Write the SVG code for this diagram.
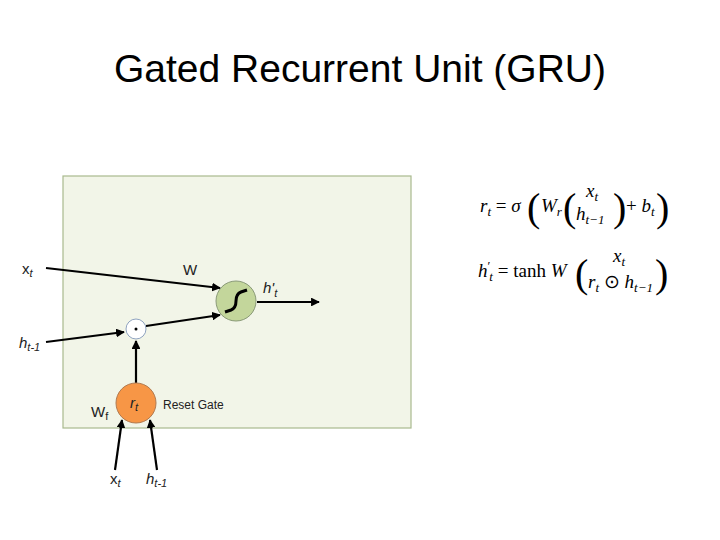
<svg xmlns="http://www.w3.org/2000/svg" width="720" height="540" viewBox="0 0 720 540">
<style>
.lbl{font-family:"Liberation Sans",Arial,sans-serif;font-size:15px;fill:#222}
.it{font-style:italic}
.sub{font-size:11px}
.eq{font-family:"Liberation Serif","Times New Roman",serif;font-size:19px;fill:#000}
.es{font-size:13px;font-style:italic}
.par{font-size:40px;font-weight:100}
.conn{stroke:#000;stroke-width:2.2;fill:none;marker-end:url(#ah)}
</style>
<defs>
<marker id="ah" viewBox="0 0 10 10" refX="9" refY="5" markerWidth="4" markerHeight="4" orient="auto" markerUnits="strokeWidth">
<path d="M0,0 L10,5 L0,10 z" fill="#000"/>
</marker>
</defs>
<rect width="720" height="540" fill="#fff"/>
<text x="360" y="82" text-anchor="middle" font-family="Liberation Sans,Arial,sans-serif" font-size="39">Gated Recurrent Unit (GRU)</text>
<g id="panel"><rect x="63" y="176" width="348" height="252" fill="#f2f5e8" stroke="#a9b98e" stroke-width="1.2"/></g>
<g id="connectors">
<line class="conn" x1="46" y1="268" x2="220" y2="288"/>
<line class="conn" x1="46" y1="342" x2="124" y2="332"/>
<line class="conn" x1="146" y1="326" x2="220" y2="315"/>
<line class="conn" x1="136" y1="383" x2="136" y2="341"/>
<line class="conn" x1="257" y1="302" x2="319" y2="302"/>
<line class="conn" x1="115" y1="470" x2="122" y2="420"/>
<line class="conn" x1="157" y1="470" x2="150" y2="420"/>
</g>
<g id="tanh">
<circle cx="236" cy="301" r="20" fill="#c3d69b" stroke="#8a9a78" stroke-width="1"/>
<path d="M225,312 L231,310 Q236,308 236,301 Q236,294 241,292 L247,290" stroke="#000" stroke-width="3" fill="none"/>
</g>
<g id="dot">
<circle cx="136" cy="329" r="10" fill="#fff" stroke="#8fa3c0" stroke-width="1"/>
<circle cx="136" cy="329" r="1.5" fill="#000"/>
</g>
<g id="reset">
<circle cx="136" cy="403" r="20" fill="#f79646" stroke="#b07a50" stroke-width="1"/>
<text x="134" y="408" text-anchor="middle" class="lbl it">r<tspan class="sub" dy="3">t</tspan></text>
</g>
<g id="labels">
<text x="22" y="274" class="lbl">x<tspan class="it sub" dy="3">t</tspan></text>
<text x="183" y="275" class="lbl">W</text>
<text x="263" y="293" class="lbl it">h'<tspan class="sub" dy="4">t</tspan></text>
<text x="19" y="348" class="lbl it">h<tspan class="sub" dy="3">t-1</tspan></text>
<text x="91" y="417" class="lbl">W<tspan class="sub" dy="3">f</tspan></text>
<text x="163" y="409" class="lbl" style="font-size:12px">Reset Gate</text>
<text x="110" y="484" class="lbl">x<tspan class="it sub" dy="3">t</tspan></text>
<text x="146" y="484" class="lbl it">h<tspan class="sub" dy="3">t-1</tspan></text>
</g>
<g id="eq1">
<text x="480" y="212" class="eq"><tspan font-style="italic">r</tspan><tspan class="es" dy="4">t</tspan><tspan dy="-4"> = </tspan><tspan font-style="italic">σ</tspan></text>
<text x="527" y="221" class="eq par">(</text>
<text x="541" y="212" class="eq"><tspan font-style="italic">W</tspan><tspan class="es" dy="4">r</tspan></text>
<text x="563" y="221" class="eq par">(</text>
<text x="586" y="197" class="eq" font-style="italic">x<tspan class="es" dy="4">t</tspan></text>
<text x="576" y="220" class="eq" font-style="italic">h<tspan class="es" dy="4">t−1</tspan></text>
<text x="613" y="221" class="eq par">)</text>
<text x="626" y="212" class="eq">+ <tspan font-style="italic">b</tspan><tspan class="es" dy="4">t</tspan></text>
<text x="656" y="221" class="eq par">)</text>
</g>
<g id="eq2">
<text x="478" y="277" class="eq"><tspan font-style="italic">h</tspan><tspan style="font-size:13px" dy="-7">′</tspan><tspan class="es" dx="-1" dy="11">t</tspan><tspan dy="-4"> = tanh </tspan><tspan font-style="italic">W</tspan></text>
<text x="575" y="287" class="eq par">(</text>
<text x="613" y="262" class="eq" font-style="italic">x<tspan class="es" dy="4">t</tspan></text>
<text x="588" y="288" class="eq"><tspan font-style="italic">r</tspan><tspan class="es" dy="4">t</tspan><tspan dy="-4"> ⊙ </tspan><tspan font-style="italic">h</tspan><tspan class="es" dy="4">t−1</tspan></text>
<text x="655" y="287" class="eq par">)</text>
</g>
</svg>
